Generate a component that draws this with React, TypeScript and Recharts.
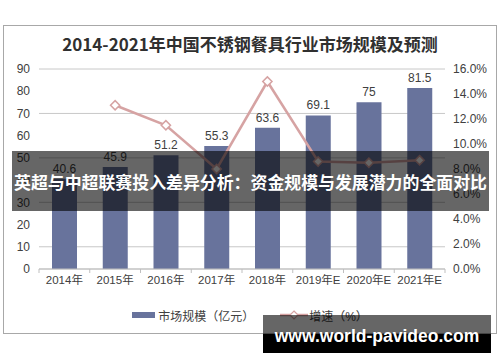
import React from 'react';
import { ComposedChart, Bar, Line, XAxis, YAxis, CartesianGrid, LabelList, Legend } from 'recharts';

const categories = ['2014年', '2015年', '2016年', '2017年', '2018年', '2019年E', '2020年E', '2021年E'];
const marketSize = [40.6, 45.9, 51.2, 55.3, 63.6, 69.1, 75, 81.5];
const growthRate: (number | null)[] = [null, 13.1, 11.5, 8.0, 15.0, 8.6, 8.5, 8.7];
const leftTicks = [0, 10, 20, 30, 40, 50, 60, 70, 80, 90];
const rightTicks = [0, 2, 4, 6, 8, 10, 12, 14, 16];

const data = categories.map((c, i) => ({ name: c, size: marketSize[i], rate: growthRate[i] }));

const BAR_COLOR = '#68739C';
const LINE_COLOR = '#D6A3A3';
const TEXT = '#404040';
const FONT = '"Liberation Sans", Arial, "Noto Sans CJK SC", sans-serif';
const X_TICK_MARGIN = 7;

const XTick = (props: any) => {
  const { x, y, payload, index, visibleTicksCount } = props;
  const w = typeof props.width === 'number' ? props.width : 406;
  const n = visibleTicksCount || categories.length;
  const half = w / n / 2;
  const axisY = y - X_TICK_MARGIN;
  return (
    <g>
      <line x1={x - half} x2={x - half} y1={axisY} y2={axisY + 4} stroke="#BFBFBF" />
      {index === n - 1 && <line x1={x + half} x2={x + half} y1={axisY} y2={axisY + 4} stroke="#BFBFBF" />}
      <text x={x} y={y} dy="0.71em" textAnchor="middle" fontSize={11.5} fill={TEXT} fontFamily={FONT}>
        {payload.value}
      </text>
    </g>
  );
};

const Diamond = (props: any) => {
  const { cx, cy, value } = props;
  if (value == null || cx == null || cy == null) return <g />;
  const r = 4.6;
  return (
    <polygon
      points={`${cx},${cy - r} ${cx + r},${cy} ${cx},${cy + r} ${cx - r},${cy}`}
      fill="#FFFFFF"
      stroke={LINE_COLOR}
      strokeWidth={1.5}
    />
  );
};

const LegendContent = () => (
  <div
    style={{
      width: 500,
      height: 18,
      display: 'flex',
      justifyContent: 'center',
      alignItems: 'center',
      fontFamily: FONT,
      fontSize: 12,
      color: TEXT,
    }}
  >
    <div style={{ display: 'flex', alignItems: 'center' }}>
      <svg width={23} height={6} style={{ marginRight: 3 }}>
        <rect x={0} y={0} width={23} height={6} fill={BAR_COLOR} />
      </svg>
      <span>市场规模（亿元）</span>
    </div>
    <div style={{ display: 'flex', alignItems: 'center', marginLeft: 26 }}>
      <svg width={28} height={10} style={{ marginRight: 1 }}>
        <line x1={0} x2={28} y1={5} y2={5} stroke={LINE_COLOR} strokeWidth={2.5} />
        <polygon points="14,1 18,5 14,9 10,5" fill="#FFFFFF" stroke={LINE_COLOR} strokeWidth={1.2} />
      </svg>
      <span>增速（%）</span>
    </div>
  </div>
);

export default function App() {
  return (
    <div style={{ position: 'absolute', left: 0, top: 0, width: 500, height: 362, background: '#FFFFFF', overflow: 'hidden' }}>
      <div
        style={{
          position: 'absolute',
          left: 3,
          top: 25,
          width: 494,
          height: 309,
          border: '1px solid #A8A8A8',
          boxSizing: 'border-box',
        }}
      />
      <div
        style={{
          position: 'absolute',
          left: 0,
          top: 33,
          width: 500,
          lineHeight: '22px',
          textAlign: 'center',
          fontFamily: '"Noto Sans CJK SC", sans-serif',
          fontWeight: 700,
          fontSize: 17,
          color: '#303030',
        }}
      >
        2014-2021年中国不锈钢餐具行业市场规模及预测
      </div>
      <div style={{ position: 'absolute', left: 0, top: 0 }}>
        <ComposedChart width={500} height={362} data={data} margin={{ top: 69, right: 0, left: 0, bottom: 63 }}>
          <CartesianGrid yAxisId="left" vertical={false} stroke="#C8C8C8" />
          <XAxis
            dataKey="name"
            height={30}
            tickLine={false}
            tickSize={0}
            tickMargin={X_TICK_MARGIN}
            axisLine={{ stroke: '#BFBFBF' }}
            tick={<XTick />}
            interval={0}
          />
          <YAxis
            yAxisId="left"
            width={39}
            domain={[0, 90]}
            ticks={leftTicks}
            tickLine={false}
            axisLine={false}
            tickSize={0}
            tickMargin={9}
            tick={{ fontSize: 12, fill: TEXT, fontFamily: FONT }}
          />
          <YAxis
            yAxisId="right"
            orientation="right"
            width={55}
            domain={[0, 16]}
            ticks={rightTicks}
            tickLine={false}
            axisLine={false}
            tickSize={0}
            tickMargin={8}
            tickFormatter={(v: number) => v.toFixed(1) + '%'}
            tick={{ fontSize: 12, fill: TEXT, fontFamily: FONT, textAnchor: 'start' }}
          />
          <Bar yAxisId="left" dataKey="size" fill={BAR_COLOR} barSize={25} isAnimationActive={false}>
            <LabelList dataKey="size" position="top" offset={6} fill={TEXT} fontSize={12} fontFamily={FONT} />
          </Bar>
          <Line
            yAxisId="right"
            dataKey="rate"
            stroke={LINE_COLOR}
            strokeWidth={2.5}
            dot={<Diamond />}
            activeDot={false}
            isAnimationActive={false}
          />
          <Legend
            layout="horizontal"
            verticalAlign="middle"
            align="center"
            content={<LegendContent />}
            wrapperStyle={{ top: 306, left: 0, width: 500, height: 18 }}
          />
        </ComposedChart>
      </div>
      <div
        style={{
          position: 'absolute',
          left: 12,
          top: 151,
          width: 477,
          height: 60,
          background: 'rgba(0,0,0,0.6)',
          color: '#FFFFFF',
          display: 'flex',
          alignItems: 'center',
          justifyContent: 'center',
          fontFamily: '"Noto Sans CJK SC", sans-serif',
          fontWeight: 700,
          fontSize: 16.9,
          whiteSpace: 'nowrap',
          zIndex: 5,
        }}
      >
        英超与中超联赛投入差异分析：资金规模与发展潜力的全面对比
      </div>
      <div style={{ position: 'absolute', left: 263, top: 315, width: 228, height: 38, zIndex: 5 }}>
        <div style={{ position: 'absolute', left: 0, top: 0, width: 228, height: 19, background: 'rgba(0,0,0,0.6)' }} />
        <div style={{ position: 'absolute', left: 0, top: 19, width: 228, height: 19, background: '#000000' }} />
        <div
          style={{
            position: 'absolute',
            left: 0,
            top: 0,
            width: 228,
            height: 42,
            display: 'flex',
            alignItems: 'center',
            justifyContent: 'center',
            color: '#FFFFFF',
            fontFamily: '"Liberation Sans", Arial, sans-serif',
            fontWeight: 700,
            fontSize: 17.5,
            whiteSpace: 'nowrap',
          }}
        >
          www.world-pavideo.com
        </div>
      </div>
    </div>
  );
}
